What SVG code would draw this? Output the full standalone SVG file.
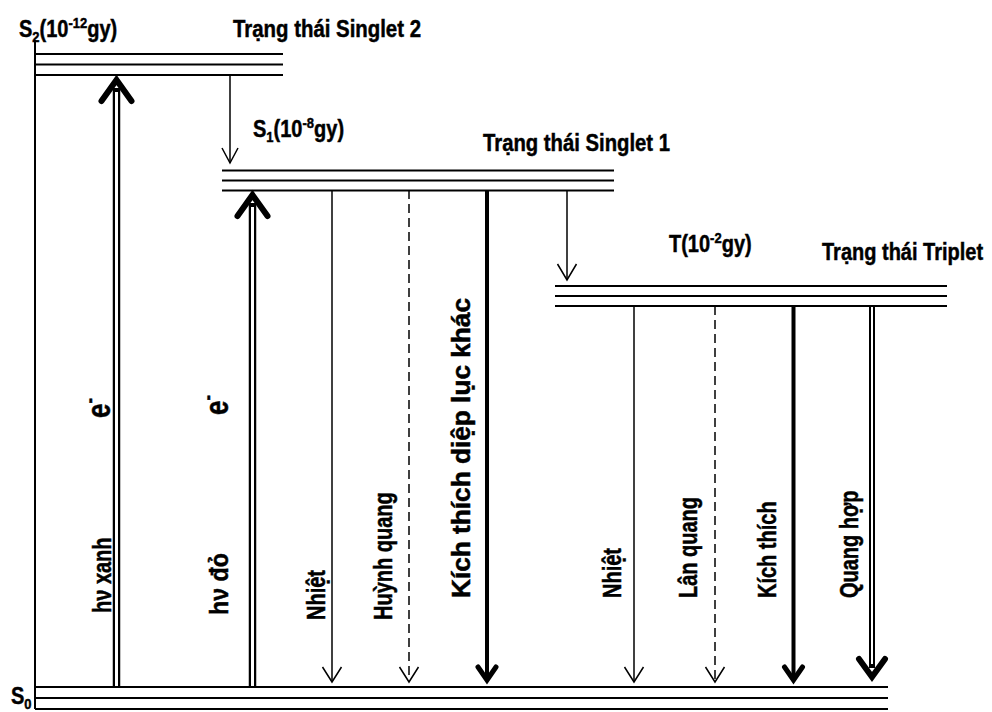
<svg xmlns="http://www.w3.org/2000/svg" width="992" height="712" viewBox="0 0 992 712">
<style>
.lv{stroke:#000;stroke-width:2;fill:none}
.t{font-family:"Liberation Sans",Arial,sans-serif;font-weight:bold;fill:#000;stroke:#000;stroke-width:0.4}
.title{font-size:20px}
.lab{font-size:20px}
.vt{font-size:20px}
.ee{font-size:26px}
.thin{stroke:#000;stroke-width:1.5;fill:none}
.dash{stroke:#000;stroke-width:1.5;fill:none;stroke-dasharray:9 5}
.bold{stroke:#000;stroke-width:4;fill:none}
.dblo{stroke:#000;fill:none}
.dbli{stroke:#fff;fill:none}
.hthin{stroke:#000;stroke-width:1.5;fill:none}
.hbold{stroke:#000;stroke-width:5;fill:none;stroke-linejoin:miter;stroke-linecap:round}
.hwide{stroke:#000;stroke-width:6;fill:none;stroke-linejoin:miter;stroke-linecap:round}
</style>
<rect width="992" height="712" fill="#fff"/>

<g id="connectors">
  <line x1="35" y1="40" x2="35" y2="709" class="lv"/>
  <line x1="230" y1="75" x2="230" y2="163" class="thin"/>
  <path d="M222,148 L230,163 L238,148" class="hthin"/>
  <line x1="567" y1="190" x2="567" y2="280" class="thin"/>
  <path d="M557.5,264 L567,280 L576.5,264" class="hthin"/>
  <line x1="116.5" y1="687" x2="116.5" y2="88" class="dblo" stroke-width="7.5"/>
  <line x1="116.5" y1="687" x2="116.5" y2="92" class="dbli" stroke-width="3"/>
  <path d="M101.5,101 L116.5,80 L131.5,101" class="hwide"/>
  <line x1="252.5" y1="687" x2="252.5" y2="203" class="dblo" stroke-width="7.5"/>
  <line x1="252.5" y1="687" x2="252.5" y2="207" class="dbli" stroke-width="3"/>
  <path d="M237.5,216 L252.5,195 L267.5,216" class="hwide"/>
  <line x1="332" y1="190" x2="332" y2="682" class="thin"/>
  <path d="M322.5,667 L332,682 L341.5,667" class="hthin"/>
  <line x1="409" y1="190" x2="409" y2="680" class="dash"/>
  <path d="M399.5,667 L409,682 L418.5,667" class="hthin"/>
  <line x1="487" y1="190" x2="487" y2="676" class="bold"/>
  <path d="M478,667 L487,680 L496,667" class="hbold"/>
  <line x1="634" y1="306" x2="634" y2="682" class="thin"/>
  <path d="M624.5,667 L634,682 L643.5,667" class="hthin"/>
  <line x1="715" y1="306" x2="715" y2="680" class="dash"/>
  <path d="M705.5,667 L715,682 L724.5,667" class="hthin"/>
  <line x1="793.5" y1="306" x2="793.5" y2="676" class="bold"/>
  <path d="M784.5,667 L793.5,680 L802.5,667" class="hbold"/>
  <line x1="872" y1="306" x2="872" y2="668" class="dblo" stroke-width="6"/>
  <line x1="872" y1="306" x2="872" y2="664" class="dbli" stroke-width="2"/>
  <path d="M859,659 L872,677 L885,659" class="hwide"/>
</g>

<g id="S2">
  <line x1="35" y1="54" x2="283" y2="54" class="lv"/>
  <line x1="35" y1="64.5" x2="283" y2="64.5" class="lv"/>
  <line x1="35" y1="75" x2="283" y2="75" class="lv"/>
  <text transform="translate(19,37) scale(1,1.15)" class="t lab">S<tspan font-size="13" dy="4">2</tspan><tspan dy="-4">(10</tspan><tspan font-size="13" dy="-8">-12</tspan><tspan dy="8">gy)</tspan></text>
  <text transform="translate(233,37) scale(1,1.15)" class="t title" textLength="188" lengthAdjust="spacingAndGlyphs">Trạng thái Singlet 2</text>
</g>

<g id="S1">
  <line x1="222" y1="170.5" x2="614" y2="170.5" class="lv"/>
  <line x1="222" y1="180.5" x2="614" y2="180.5" class="lv"/>
  <line x1="222" y1="190.5" x2="614" y2="190.5" class="lv"/>
  <text transform="translate(253,137) scale(1,1.15)" class="t lab">S<tspan font-size="13" dy="4">1</tspan><tspan dy="-4">(10</tspan><tspan font-size="13" dy="-8">-8</tspan><tspan dy="8">gy)</tspan></text>
  <text transform="translate(483,151) scale(1,1.15)" class="t title" textLength="187" lengthAdjust="spacingAndGlyphs">Trạng thái Singlet 1</text>
</g>

<g id="T">
  <line x1="555" y1="286" x2="947" y2="286" class="lv"/>
  <line x1="555" y1="296" x2="947" y2="296" class="lv"/>
  <line x1="555" y1="306" x2="947" y2="306" class="lv"/>
  <text transform="translate(669,252) scale(1,1.15)" class="t lab">T(10<tspan font-size="13" dy="-8">-2</tspan><tspan dy="8">gy)</tspan></text>
  <text transform="translate(822,260) scale(1,1.15)" class="t title">Trạng thái Triplet</text>
</g>

<g id="S0">
  <line x1="35" y1="687" x2="888" y2="687" class="lv"/>
  <line x1="35" y1="698" x2="888" y2="698" class="lv"/>
  <line x1="35" y1="709" x2="888" y2="709" class="lv"/>
  <text transform="translate(11,704) scale(1,1.15)" class="t lab">S<tspan font-size="13" dy="4">0</tspan></text>
</g>

<g id="labels">
  <text transform="translate(111,613) rotate(-90) scale(1,1.25)" class="t vt">hν xanh</text>
  <text transform="translate(110,418) rotate(-90) scale(1,1.3)" class="t ee">e<tspan font-size="16" dy="-11">-</tspan></text>
  <text transform="translate(228,615) rotate(-90) scale(1,1.25)" class="t vt" textLength="62" lengthAdjust="spacingAndGlyphs">hν  đỏ</text>
  <text transform="translate(228,415) rotate(-90) scale(1,1.3)" class="t ee">e<tspan font-size="16" dy="-11">-</tspan></text>
  <text transform="translate(325,620) rotate(-90) scale(1,1.25)" class="t vt">Nhiệt</text>
  <text transform="translate(392,620) rotate(-90) scale(1,1.25)" class="t vt">Huỳnh quang</text>
  <text transform="translate(470,598) rotate(-90) scale(1,1.25)" class="t vt" textLength="300" lengthAdjust="spacingAndGlyphs">Kích thích diệp lục khác</text>
  <text transform="translate(621,598) rotate(-90) scale(1,1.25)" class="t vt">Nhiệt</text>
  <text transform="translate(697,598) rotate(-90) scale(1,1.25)" class="t vt">Lân quang</text>
  <text transform="translate(776,598) rotate(-90) scale(1,1.25)" class="t vt">Kích thích</text>
  <text transform="translate(858,598) rotate(-90) scale(1,1.25)" class="t vt">Quang hợp</text>
</g>
</svg>
